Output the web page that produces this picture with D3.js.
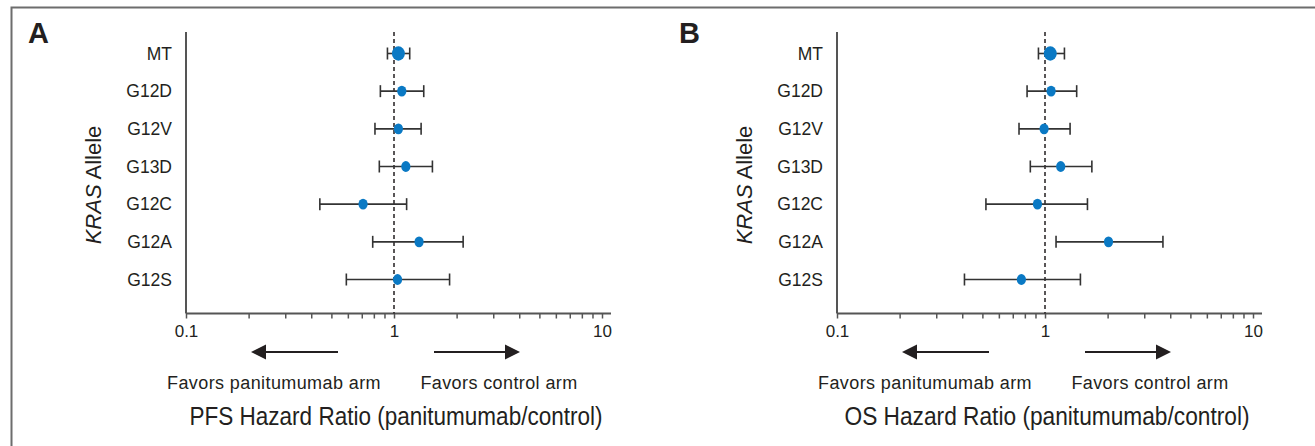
<!DOCTYPE html>
<html>
<head>
<meta charset="utf-8">
<script src="https://cdn.jsdelivr.net/npm/d3@7"></script>
<style>
	body { margin: 0; background: #fff; }
	svg { display: block; }
	text { fill: #231f20; font-family: 'Liberation Sans', Arial, sans-serif; }
</style>
</head>
<body>
<svg id="chart" width="1315" height="446"></svg>
<script>
'use strict'

// KRAS alleles, top to bottom
const alleles = ['MT', 'G12D', 'G12V', 'G13D', 'G12C', 'G12A', 'G12S']

// PFS hazard ratios with 95% CI
const pfsHR = [1.05, 1.09, 1.05, 1.14, 0.71, 1.32, 1.04]
const pfsLow = [0.93, 0.86, 0.81, 0.85, 0.44, 0.79, 0.59]
const pfsHigh = [1.19, 1.39, 1.35, 1.53, 1.15, 2.15, 1.85]

// OS hazard ratios with 95% CI
const osHR = [1.06, 1.07, 0.99, 1.19, 0.92, 2.02, 0.77]
const osLow = [0.93, 0.82, 0.75, 0.85, 0.52, 1.13, 0.41]
const osHigh = [1.24, 1.42, 1.32, 1.68, 1.60, 3.69, 1.48]

const majorTicks = [0.1, 1, 10]
const minorTicks = [0.2, 0.3, 0.4, 0.5, 0.6, 0.7, 0.8, 0.9, 2, 3, 4, 5, 6, 7, 8, 9]

const svg = d3.select('#chart')

// outer frame (open on right and bottom, like the cropped figure)
svg.append('path')
	.attr('d', 'M11.5,446V7.5H1315')
	.attr('fill', 'none')
	.attr('stroke', '#6d6d6d')
	.attr('stroke-width', 2)

function drawPanel(dx, letter, hr, low, high, title, titleLen) {
	const g = svg.append('g').attr('transform', 'translate(' + dx + ',0)')
	const x = d3.scaleLog().domain([0.1, 10]).range([186, 602])
	const y = d3.scalePoint().domain(alleles).range([53.5, 279.5])
	const axisY = 313.5
	const rows = alleles.map(function(a, i) {
		return {name: a, hr: hr[i], low: low[i], high: high[i]}
	})

	g.append('text')
		.attr('x', 28)
		.attr('y', 43)
		.attr('font-size', 29)
		.attr('font-weight', 'bold')
		.text(letter)

	// axes
	g.append('line')
		.attr('x1', 186).attr('x2', 186)
		.attr('y1', 32).attr('y2', axisY)
		.attr('stroke', '#555').attr('stroke-width', 2)

	const xAxis = g.append('g')
		.attr('transform', 'translate(0,' + axisY + ')')
		.call(d3.axisBottom(x)
			.tickValues(majorTicks.concat(minorTicks))
			.tickSizeInner(5)
			.tickSizeOuter(0)
			.tickPadding(5)
			.tickFormat(function(d) { return majorTicks.indexOf(d) >= 0 ? d3.format('~g')(d) : '' }))
	xAxis.attr('font-family', null).attr('font-size', null)
	xAxis.select('.domain')
		.attr('d', 'M186,0H611')
		.attr('stroke', '#555')
		.attr('stroke-width', 2)
	xAxis.selectAll('.tick line').attr('stroke', '#555').attr('stroke-width', 1.5)
	xAxis.selectAll('.tick text')
		.attr('font-size', 17)
		.attr('fill', '#231f20')
		.attr('dy', '0.8em')

	// reference line at HR = 1
	g.append('line')
		.attr('x1', x(1)).attr('x2', x(1))
		.attr('y1', 32).attr('y2', axisY)
		.attr('stroke', '#231f20')
		.attr('stroke-width', 1.5)
		.attr('stroke-dasharray', '4,3')

	// category labels
	g.selectAll('.allele')
		.data(rows)
		.enter().append('text')
		.attr('class', 'allele')
		.attr('x', 172)
		.attr('y', function(d) { return y(d.name) })
		.attr('dy', '0.36em')
		.attr('text-anchor', 'end')
		.attr('font-size', 17.5)
		.text(function(d) { return d.name })

	const ylab = g.append('text')
		.attr('transform', 'translate(101,185) rotate(-90)')
		.attr('text-anchor', 'middle')
		.attr('font-size', 22)
	ylab.append('tspan').attr('font-style', 'italic').text('KRAS')
	ylab.append('tspan').text(' Allele')

	// CI bars
	const bars = g.selectAll('.ci')
		.data(rows)
		.enter().append('g')
		.attr('class', 'ci')
		.attr('stroke', '#333')
		.attr('stroke-width', 1.6)
	bars.append('line')
		.attr('x1', function(d) { return x(d.low) })
		.attr('x2', function(d) { return x(d.high) })
		.attr('y1', function(d) { return y(d.name) })
		.attr('y2', function(d) { return y(d.name) })
	bars.append('line')
		.attr('x1', function(d) { return x(d.low) })
		.attr('x2', function(d) { return x(d.low) })
		.attr('y1', function(d) { return y(d.name) - 6 })
		.attr('y2', function(d) { return y(d.name) + 6 })
	bars.append('line')
		.attr('x1', function(d) { return x(d.high) })
		.attr('x2', function(d) { return x(d.high) })
		.attr('y1', function(d) { return y(d.name) - 6 })
		.attr('y2', function(d) { return y(d.name) + 6 })

	g.selectAll('.pt')
		.data(rows)
		.enter().append('ellipse')
		.attr('class', 'pt')
		.attr('cx', function(d) { return x(d.hr) })
		.attr('cy', function(d) { return y(d.name) })
		.attr('rx', function(d) { return d.name === 'MT' ? 6.5 : 4.6 })
		.attr('ry', function(d) { return d.name === 'MT' ? 7.2 : 5.4 })
		.attr('fill', '#0a79c4')

	// direction arrows
	const ay = 352
	const x1 = x(1)
	g.append('path')
		.attr('d', 'M' + (x1 - 56) + ',' + ay + 'H' + (x1 - 128))
		.attr('stroke', '#231f20').attr('stroke-width', 2)
	g.append('path')
		.attr('d', 'M' + (x1 - 143) + ',' + ay + 'l15,-7.5v15z')
		.attr('fill', '#231f20')
	g.append('path')
		.attr('d', 'M' + (x1 + 40) + ',' + ay + 'H' + (x1 + 112))
		.attr('stroke', '#231f20').attr('stroke-width', 2)
	g.append('path')
		.attr('d', 'M' + (x1 + 126) + ',' + ay + 'l-15,-7.5v15z')
		.attr('fill', '#231f20')

	g.append('text')
		.attr('x', 274).attr('y', 389)
		.attr('text-anchor', 'middle')
		.attr('font-size', 18)
		.attr('letter-spacing', 0.4)
		.text('Favors panitumumab arm')
	g.append('text')
		.attr('x', 499).attr('y', 389)
		.attr('text-anchor', 'middle')
		.attr('font-size', 18)
		.attr('letter-spacing', 0.4)
		.text('Favors control arm')

	g.append('text')
		.attr('x', 396).attr('y', 425)
		.attr('text-anchor', 'middle')
		.attr('font-size', 25)
		.attr('textLength', titleLen)
		.attr('lengthAdjust', 'spacingAndGlyphs')
		.text(title)
}

drawPanel(0, 'A', pfsHR, pfsLow, pfsHigh, 'PFS Hazard Ratio (panitumumab/control)', 413)
drawPanel(651, 'B', osHR, osLow, osHigh, 'OS Hazard Ratio (panitumumab/control)', 405)
</script>
</body>
</html>
